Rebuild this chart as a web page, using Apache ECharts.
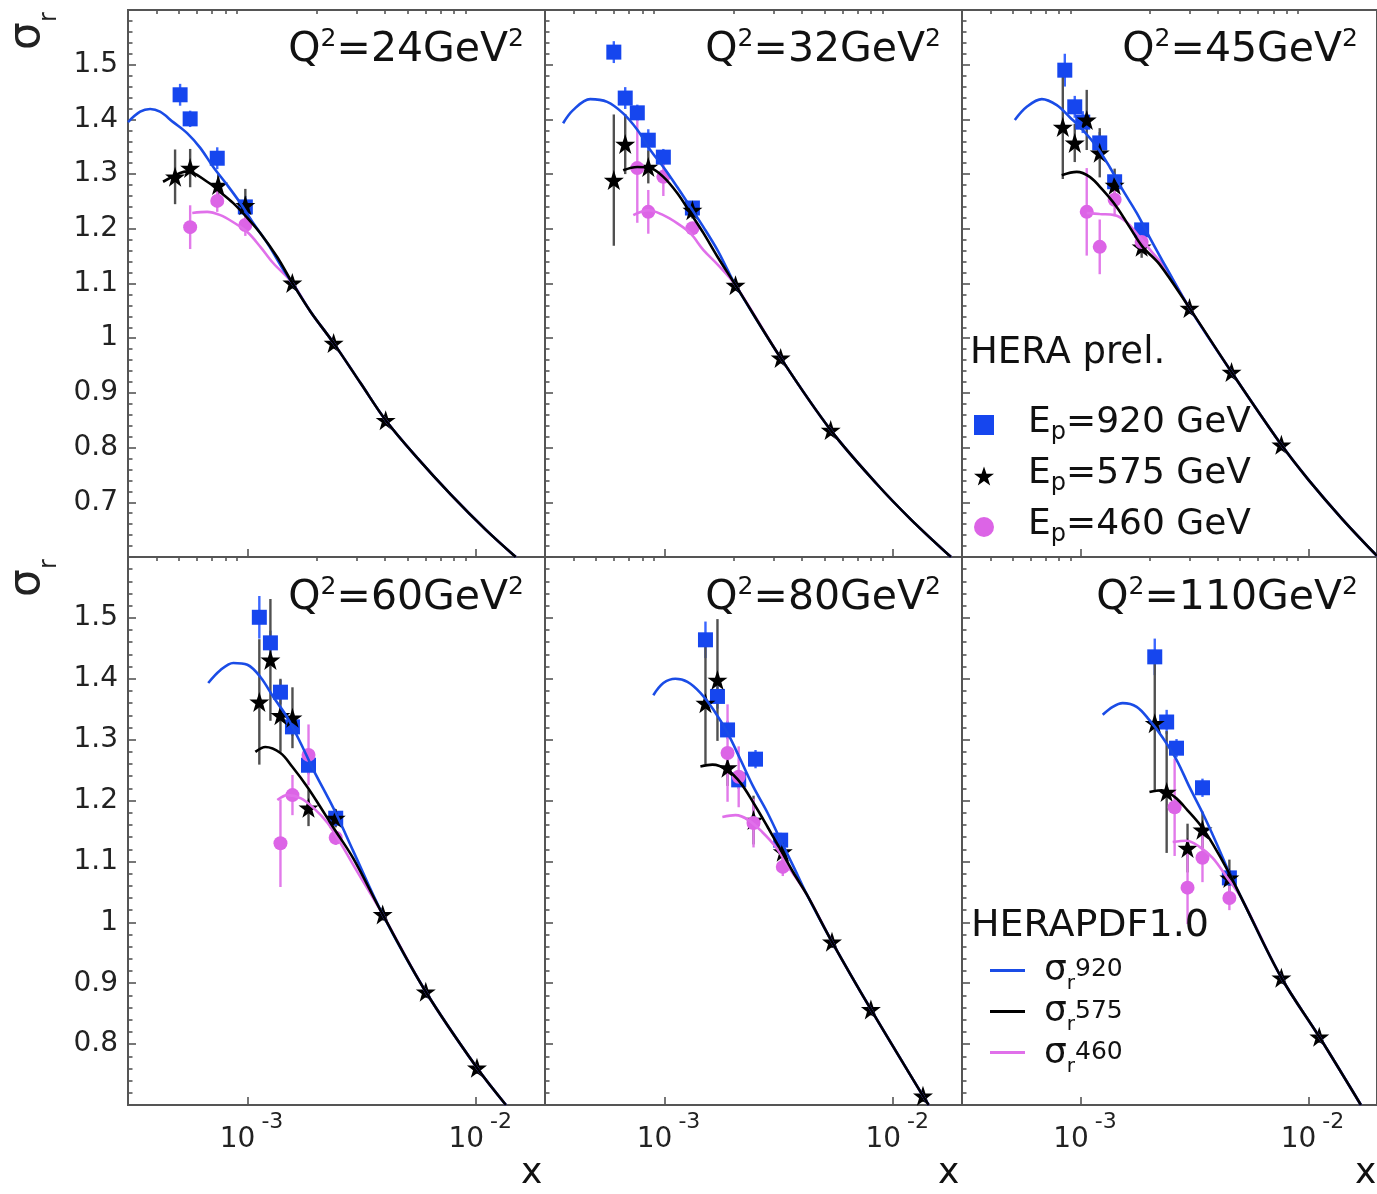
<!DOCTYPE html>
<html><head><meta charset="utf-8">
<script src="https://cdn.jsdelivr.net/npm/echarts@6/dist/echarts.min.js"></script>
<style>html,body{margin:0;padding:0;background:#fff}#c{width:1377px;height:1194px}</style>
</head><body><div id="c"></div>
<script>
// ---------------- data (x, sigma_r, error) ----------------
const q2Labels = ['24','32','45','60','80','110'];
const xMajorTicks = [0.001, 0.01];
const xMinorTicks = [3e-4,4e-4,5e-4,6e-4,7e-4,8e-4,9e-4,2e-3,3e-3,4e-3,5e-3,6e-3,7e-3,8e-3,9e-3,2e-2];

// Q2 = 24
const q24_920 = [[5.07e-4,1.445,0.02],[5.61e-4,1.401,0.015],[7.37e-4,1.329,0.02],[9.78e-4,1.24,0.02]];
const q24_575 = [[4.82e-4,1.295,0.05],[5.61e-4,1.311,0.035],[7.44e-4,1.28,0.02],[9.78e-4,1.243,0.03],[1.57e-3,1.101,0.01],[2.38e-3,0.991,0.01],[4.02e-3,0.85,0.01]];
const q24_460 = [[5.61e-4,1.203,0.04],[7.37e-4,1.251,0.02],[9.78e-4,1.207,0.02]];
const q24_c920 = [[3.0e-4,1.395],[3.39e-4,1.414],[3.75e-4,1.419],[4.14e-4,1.414],[4.73e-4,1.395],[5.44e-4,1.375],[6.21e-4,1.348],[7.08e-4,1.313],[8.15e-4,1.28],[9.3e-4,1.247],[1.06e-3,1.21],[1.22e-3,1.174],[1.435e-3,1.125]];
const q24_c575 = [[4.27e-4,1.286],[5.07e-4,1.302],[5.44e-4,1.305],[6.66e-4,1.286],[7.6e-4,1.267],[8.66e-4,1.247],[9.98e-4,1.22],[1.138e-3,1.192],[1.35e-3,1.148]];
const q24_c460 = [[5.73e-4,1.229],[6.66e-4,1.231],[7.6e-4,1.225],[8.66e-4,1.212],[9.98e-4,1.194],[1.138e-3,1.167],[1.297e-3,1.137]];
const q24_tail = [[1.57e-3,1.101],[1.89e-3,1.048],[2.38e-3,0.991],[3.12e-3,0.918],[4.02e-3,0.85],[5.5e-3,0.782],[7.75e-3,0.714],[1.1e-2,0.65],[1.49e-2,0.6]];

// Q2 = 32
const q32_920 = [[6.0e-4,1.523,0.02],[6.73e-4,1.439,0.02],[7.6e-4,1.412,0.015],[8.49e-4,1.362,0.02],[9.88e-4,1.331,0.015],[1.324e-3,1.238,0.01]];
const q32_575 = [[6.0e-4,1.289,0.12],[6.73e-4,1.355,0.055],[8.49e-4,1.313,0.03],[1.324e-3,1.234,0.015],[2.044e-3,1.097,0.01],[3.22e-3,0.964,0.01],[5.33e-3,0.832,0.01]];
const q32_460 = [[7.6e-4,1.311,0.1],[8.49e-4,1.231,0.04],[9.88e-4,1.295,0.035],[1.324e-3,1.201,0.01]];
const q32_c920 = [[3.6e-4,1.393],[3.98e-4,1.417],[4.73e-4,1.437],[5.61e-4,1.432],[6.59e-4,1.411],[7.6e-4,1.381],[8.66e-4,1.344],[9.88e-4,1.313],[1.138e-3,1.276],[1.297e-3,1.24],[1.48e-3,1.203],[1.704e-3,1.161],[1.886e-3,1.125]];
const q32_c575 = [[6.59e-4,1.307],[7.6e-4,1.313],[8.66e-4,1.311],[9.88e-4,1.295],[1.138e-3,1.265],[1.297e-3,1.229],[1.48e-3,1.192],[1.704e-3,1.149]];
const q32_c460 = [[7.3e-4,1.225],[8.49e-4,1.234],[9.88e-4,1.225],[1.138e-3,1.21],[1.297e-3,1.192],[1.48e-3,1.161],[1.704e-3,1.135]];
const q32_tail = [[2.044e-3,1.097],[3.22e-3,0.964],[5.33e-3,0.832],[8.5e-3,0.733],[1.2e-2,0.668],[1.79e-2,0.6]];

// Q2 = 45
const q45_920 = [[8.49e-4,1.49,0.03],[9.39e-4,1.423,0.02],[1.018e-3,1.395,0.02],[1.209e-3,1.357,0.02],[1.406e-3,1.286,0.015],[1.848e-3,1.198,0.015]];
const q45_575 = [[8.32e-4,1.386,0.095],[9.39e-4,1.357,0.035],[1.06e-3,1.399,0.055],[1.209e-3,1.339,0.045],[1.406e-3,1.28,0.03],[1.848e-3,1.167,0.02],[3.0e-3,1.055,0.01],[4.59e-3,0.938,0.01],[7.6e-3,0.805,0.01]];
const q45_460 = [[1.06e-3,1.231,0.08],[1.209e-3,1.167,0.05],[1.406e-3,1.253,0.03],[1.848e-3,1.176,0.015]];
const q45_c920 = [[5.12e-4,1.399],[5.78e-4,1.423],[6.73e-4,1.437],[7.83e-4,1.426],[8.93e-4,1.404],[1.018e-3,1.381],[1.173e-3,1.35],[1.337e-3,1.313],[1.525e-3,1.271],[1.757e-3,1.229],[2.0e-3,1.185],[2.38e-3,1.128]];
const q45_c575 = [[8.23e-4,1.298],[9.58e-4,1.304],[1.093e-3,1.295],[1.246e-3,1.271],[1.435e-3,1.24],[1.637e-3,1.203],[1.866e-3,1.167],[2.216e-3,1.135]];
const q45_c460 = [[1.06e-3,1.229],[1.209e-3,1.227],[1.406e-3,1.225],[1.588e-3,1.212],[1.81e-3,1.185],[2.065e-3,1.156],[2.38e-3,1.125]];
const q45_tail = [[3.0e-3,1.055],[4.59e-3,0.938],[7.6e-3,0.805],[1.0e-2,0.741],[1.41e-2,0.669],[2.0e-2,0.602]];

// Q2 = 60
const q60_920 = [[1.126e-3,1.501,0.035],[1.259e-3,1.459,0.02],[1.393e-3,1.378,0.02],[1.572e-3,1.321,0.015],[1.848e-3,1.258,0.015],[2.43e-3,1.171,0.012]];
const q60_575 = [[1.126e-3,1.362,0.103],[1.259e-3,1.431,0.1],[1.393e-3,1.34,0.06],[1.572e-3,1.336,0.05],[1.848e-3,1.188,0.03],[2.43e-3,1.171,0.015],[3.9e-3,1.013,0.01],[6.02e-3,0.886,0.01],[1.008e-2,0.761,0.01]];
const q60_460 = [[1.393e-3,1.13,0.072],[1.572e-3,1.209,0.033],[1.848e-3,1.275,0.05],[2.43e-3,1.139,0.012]];
const q60_c920 = [[6.73e-4,1.393],[7.6e-4,1.414],[8.66e-4,1.426],[9.98e-4,1.423],[1.138e-3,1.403],[1.297e-3,1.37],[1.495e-3,1.336],[1.704e-3,1.295],[1.943e-3,1.25],[2.24e-3,1.206],[2.48e-3,1.173],[2.9e-3,1.117]];
const q60_c575 = [[1.082e-3,1.28],[1.197e-3,1.288],[1.393e-3,1.278],[1.572e-3,1.255],[1.829e-3,1.222],[2.086e-3,1.189],[2.38e-3,1.155],[2.9e-3,1.105]];
const q60_c460 = [[1.35e-3,1.201],[1.495e-3,1.209],[1.704e-3,1.204],[1.943e-3,1.188],[2.24e-3,1.163],[2.55e-3,1.13],[3.0e-3,1.085]];
const q60_tail = [[3.9e-3,1.013],[6.02e-3,0.886],[1.008e-2,0.761],[1.35e-2,0.7]];

// Q2 = 80
const q80_920 = [[1.51e-3,1.464,0.03],[1.704e-3,1.371,0.02],[1.886e-3,1.316,0.015],[2.11e-3,1.234,0.015],[2.5e-3,1.268,0.015],[3.22e-3,1.135,0.012]];
const q80_575 = [[1.51e-3,1.36,0.1],[1.704e-3,1.398,0.1],[1.886e-3,1.254,0.03],[2.45e-3,1.168,0.04],[3.29e-3,1.116,0.02],[5.4e-3,0.968,0.01],[7.99e-3,0.857,0.01],[1.35e-2,0.715,0.01]];
const q80_460 = [[1.886e-3,1.278,0.08],[2.11e-3,1.239,0.05],[2.45e-3,1.163,0.04],[3.29e-3,1.091,0.015]];
const q80_c920 = [[8.93e-4,1.373],[9.88e-4,1.393],[1.115e-3,1.4],[1.259e-3,1.395],[1.435e-3,1.377],[1.637e-3,1.349],[1.886e-3,1.311],[2.15e-3,1.267],[2.45e-3,1.222],[2.82e-3,1.18],[3.22e-3,1.135],[3.67e-3,1.091]];
const q80_c575 = [[1.435e-3,1.256],[1.62e-3,1.259],[1.886e-3,1.25],[2.15e-3,1.229],[2.45e-3,1.196],[2.82e-3,1.157],[3.22e-3,1.119],[3.67e-3,1.081]];
const q80_c460 = [[1.79e-3,1.173],[2.044e-3,1.176],[2.33e-3,1.168],[2.68e-3,1.148],[3.06e-3,1.124],[3.49e-3,1.091]];
const q80_tail = [[4.2e-3,1.045],[5.4e-3,0.968],[7.99e-3,0.857],[1.35e-2,0.715],[1.43e-2,0.7]];

// Q2 = 110
const q110_920 = [[2.11e-3,1.436,0.03],[2.38e-3,1.329,0.02],[2.63e-3,1.286,0.015],[3.42e-3,1.221,0.015],[4.49e-3,1.073,0.012]];
const q110_575 = [[2.11e-3,1.327,0.11],[2.38e-3,1.214,0.1],[2.94e-3,1.122,0.04],[3.42e-3,1.152,0.03],[4.49e-3,1.073,0.03],[7.6e-3,0.909,0.01],[1.115e-2,0.812,0.01]];
const q110_460 = [[2.58e-3,1.189,0.08],[2.94e-3,1.057,0.06],[3.42e-3,1.106,0.04],[4.49e-3,1.04,0.02]];
const q110_c920 = [[1.246e-3,1.341],[1.379e-3,1.354],[1.525e-3,1.36],[1.757e-3,1.354],[2.0e-3,1.332],[2.28e-3,1.304],[2.63e-3,1.267],[3.0e-3,1.222],[3.42e-3,1.18],[3.94e-3,1.13],[4.49e-3,1.081]];
const q110_c575 = [[2.0e-3,1.214],[2.26e-3,1.217],[2.58e-3,1.206],[2.94e-3,1.184],[3.39e-3,1.157],[3.86e-3,1.124],[4.4e-3,1.086]];
const q110_c460 = [[2.53e-3,1.132],[2.91e-3,1.134],[3.32e-3,1.124],[3.79e-3,1.106],[4.36e-3,1.075]];
const q110_tail = [[5.12e-3,1.037],[7.6e-3,0.909],[1.115e-2,0.812],[1.7e-2,0.7]];

const dataLegendLabels = {
  ep920: '{e|E}{p|p}{t|=920 GeV}',
  ep575: '{e|E}{p|p}{t|=575 GeV}',
  ep460: '{e|E}{p|p}{t|=460 GeV}'
};
const curveLegendLabels = {
  th920: '{s|σ}{r|r}{t|920}',
  th575: '{s|σ}{r|r}{t|575}',
  th460: '{s|σ}{r|r}{t|460}'
};

// ---------------- styling / layout ----------------
const FONT = 'DejaVu Sans';
const BLUE = '#1646ee', BLUE_ERR = '#3a66ff', BLUE_LINE = '#1a4ce6';
const PINK = '#dc64e6', PINK_ERR = '#e27aea', PINK_LINE = '#e070ea';
const BLACK = '#000', BLACK_ERR = '#505050';
const AXIS_COLOR = '#555';
const STAR = 'path://M50,2 L61.8,36.2 L97.6,36.2 L68.6,57.3 L79.4,91.4 L50,70.3 L20.6,91.4 L31.4,57.3 L2.4,36.2 L38.2,36.2 Z';
const LEFTS = [128, 545, 962], TOPS = [10, 557], HEIGHTS = [547, 548], W = 417, CW = 1377;
const Y_MIN = [0.6, 0.7], Y_MAX = 1.6, X_MIN = 3e-4, X_MAX = 2e-2;

const panels = [
  {d920:q24_920,d575:q24_575,d460:q24_460,c920:q24_c920,c575:q24_c575,c460:q24_c460,tail:q24_tail},
  {d920:q32_920,d575:q32_575,d460:q32_460,c920:q32_c920,c575:q32_c575,c460:q32_c460,tail:q32_tail},
  {d920:q45_920,d575:q45_575,d460:q45_460,c920:q45_c920,c575:q45_c575,c460:q45_c460,tail:q45_tail},
  {d920:q60_920,d575:q60_575,d460:q60_460,c920:q60_c920,c575:q60_c575,c460:q60_c460,tail:q60_tail},
  {d920:q80_920,d575:q80_575,d460:q80_460,c920:q80_c920,c575:q80_c575,c460:q80_c460,tail:q80_tail},
  {d920:q110_920,d575:q110_575,d460:q110_460,c920:q110_c920,c575:q110_c575,c460:q110_c460,tail:q110_tail}
];

const grid = [], xAxis = [], yAxis = [], series = [], title = [];
const tickStyle = {color: AXIS_COLOR, width: 1.6};

function errSeries(data, color, i) {
  return {
    type: 'custom', xAxisIndex: 2*i, yAxisIndex: i, data: data, silent: true, clip: true,
    encode: {x: 0, y: 1},
    renderItem: function (params, api) {
      const x = api.value(0), y = api.value(1), e = api.value(2);
      const p1 = api.coord([x, y - e]), p2 = api.coord([x, y + e]);
      return {type: 'line', shape: {x1: p1[0], y1: p1[1], x2: p2[0], y2: p2[1]},
              style: {stroke: color, lineWidth: 2.4}};
    }
  };
}
function curve(name, data, color, i) {
  return {type: 'line', name: name, xAxisIndex: 2*i, yAxisIndex: i, data: data,
    showSymbol: false, symbol: 'none', smooth: 0.35, silent: true,
    lineStyle: {color: color, width: 2.6}, itemStyle: {color: color}};
}
function points(name, data, symbol, size, color, i) {
  return {type: 'scatter', name: name, xAxisIndex: 2*i, yAxisIndex: i, data: data,
    encode: {x: 0, y: 1}, symbol: symbol, symbolSize: size, silent: true,
    itemStyle: {color: color, opacity: 1}};
}

panels.forEach(function (p, i) {
  const col = i % 3, row = Math.floor(i / 3);
  grid.push({left: LEFTS[col], top: TOPS[row], width: W, height: HEIGHTS[row],
    show: true, borderColor: AXIS_COLOR, borderWidth: 2, backgroundColor: 'transparent'});
  xAxis.push({
    type: 'log', logBase: 10, gridIndex: i, min: X_MIN, max: X_MAX,
    axisLine: {show: false}, splitLine: {show: false},
    axisTick: {show: true, inside: true, length: 8, customValues: xMajorTicks, lineStyle: tickStyle},
    axisLabel: {
      show: row === 1, customValues: xMajorTicks, margin: 6,
      formatter: function (v) { return '{b|10}{e|' + Math.round(Math.log10(v)) + '}'; },
      rich: {
        b: {fontSize: 28, fontFamily: FONT, color: '#222', verticalAlign: 'top', padding: [15, 0, 0, 8]},
        e: {fontSize: 22, fontFamily: FONT, color: '#222', verticalAlign: 'top', padding: [0, 0, 0, 6]}
      }
    }
  });
  xAxis.push({
    type: 'log', logBase: 10, gridIndex: i, min: X_MIN, max: X_MAX,
    axisLine: {show: false}, splitLine: {show: false}, axisLabel: {show: false},
    axisTick: {show: true, inside: true, length: 4, customValues: xMinorTicks, lineStyle: tickStyle}
  });
  yAxis.push({
    type: 'value', gridIndex: i, min: Y_MIN[row], max: Y_MAX, interval: 0.1,
    axisLine: {show: false}, splitLine: {show: false},
    axisTick: {show: true, inside: true, length: 8, lineStyle: tickStyle},
    minorTick: {show: true, splitNumber: 5, length: 4.5, lineStyle: tickStyle},
    axisLabel: {show: col === 0, showMinLabel: false, showMaxLabel: false, margin: 10,
      fontSize: 28, fontFamily: FONT, color: '#222'}
  });
  series.push(curve('th460', p.c460.concat(p.tail), PINK_LINE, i));
  series.push(curve('th920', p.c920.concat(p.tail), BLUE_LINE, i));
  series.push(curve('th575', p.c575.concat(p.tail), BLACK, i));
  series.push(errSeries(p.d920, BLUE_ERR, i));
  series.push(errSeries(p.d575, BLACK_ERR, i));
  series.push(errSeries(p.d460, PINK_ERR, i));
  series.push(points('ep920', p.d920, 'rect', 15, BLUE, i));
  series.push(points('ep575', p.d575, STAR, 20, BLACK, i));
  series.push(points('ep460', p.d460, 'circle', 14, PINK, i));
  title.push({
    text: '{q|Q}{s|2}{q|=' + q2Labels[i] + 'GeV}{s|2}',
    right: CW - (LEFTS[col] + W - 21), top: 27 + 548 * row, padding: 0,
    textStyle: {fontWeight: 'normal', rich: {
      q: {fontSize: 41, fontFamily: FONT, fontWeight: 'normal', color: '#111', verticalAlign: 'top', padding: [3, 0, 0, 0]},
      s: {fontSize: 25, fontFamily: FONT, fontWeight: 'normal', color: '#111', verticalAlign: 'top'}
    }}
  });
  if (row === 1) {
    title.push({text: 'x', left: LEFTS[col] + W - 24, top: 1156, padding: 0,
      textStyle: {fontSize: 36, fontFamily: FONT, color: '#111', fontWeight: 'normal', lineHeight: 36}});
  }
});

title.push({text: 'HERA prel.', left: 970, top: 335, padding: 0,
  textStyle: {fontSize: 37, fontFamily: FONT, color: '#111', fontWeight: 'normal', lineHeight: 37}});
title.push({text: 'HERAPDF1.0', left: 971, top: 907, padding: 0,
  textStyle: {fontSize: 38, fontFamily: FONT, color: '#111', fontWeight: 'normal', lineHeight: 38}});

const legend = [
  {
    orient: 'vertical', left: 974, top: 405, padding: 0, itemWidth: 20, itemHeight: 20, itemGap: 11,
    selectedMode: false,
    data: [{name: 'ep920', icon: 'rect'}, {name: 'ep575', icon: STAR}, {name: 'ep460', icon: 'circle'}],
    formatter: function (n) { return dataLegendLabels[n]; },
    textStyle: {rich: {
      e: {fontSize: 36, fontFamily: FONT, color: '#111', verticalAlign: 'top', padding: [0, 0, 0, 29]},
      p: {fontSize: 24, fontFamily: FONT, color: '#111', verticalAlign: 'top', padding: [16, 0, 0, 0]},
      t: {fontSize: 36, fontFamily: FONT, color: '#111', verticalAlign: 'top'}
    }}
  },
  {
    orient: 'vertical', left: 990, top: 953, padding: 0, itemWidth: 35, itemHeight: 3, itemGap: 0,
    selectedMode: false,
    data: [{name: 'th920', icon: 'rect'}, {name: 'th575', icon: 'rect'}, {name: 'th460', icon: 'rect'}],
    formatter: function (n) { return curveLegendLabels[n]; },
    textStyle: {rich: {
      s: {fontSize: 36, fontFamily: FONT, color: '#111', verticalAlign: 'top', padding: [6.3, 0, 0, 14]},
      r: {fontSize: 20, fontFamily: FONT, color: '#111', verticalAlign: 'top', padding: [27.4, 0, 0, 0]},
      t: {fontSize: 25, fontFamily: FONT, color: '#111', verticalAlign: 'top', padding: [10.7, 0, 0, 0]}
    }}
  }
];

function sigmaLabel(y) {
  return {type: 'text', x: 6, y: y, rotation: Math.PI / 2, silent: true,
    style: {text: '{s|σ}{r|r}', align: 'left', verticalAlign: 'top', fill: '#222',
      rich: {
        s: {fontSize: 44, fontFamily: FONT, fill: '#222', verticalAlign: 'top'},
        r: {fontSize: 24, fontFamily: FONT, fill: '#222', verticalAlign: 'top', padding: [32, 0, 0, 0]}
      }}};
}

const chart = echarts.init(document.getElementById('c'), null, {renderer: 'canvas'});
chart.setOption({
  animation: false, backgroundColor: '#fff',
  grid: grid, xAxis: xAxis, yAxis: yAxis, series: series, title: title, legend: legend,
  graphic: [sigmaLabel(50), sigmaLabel(597)]
});
</script></body></html>
